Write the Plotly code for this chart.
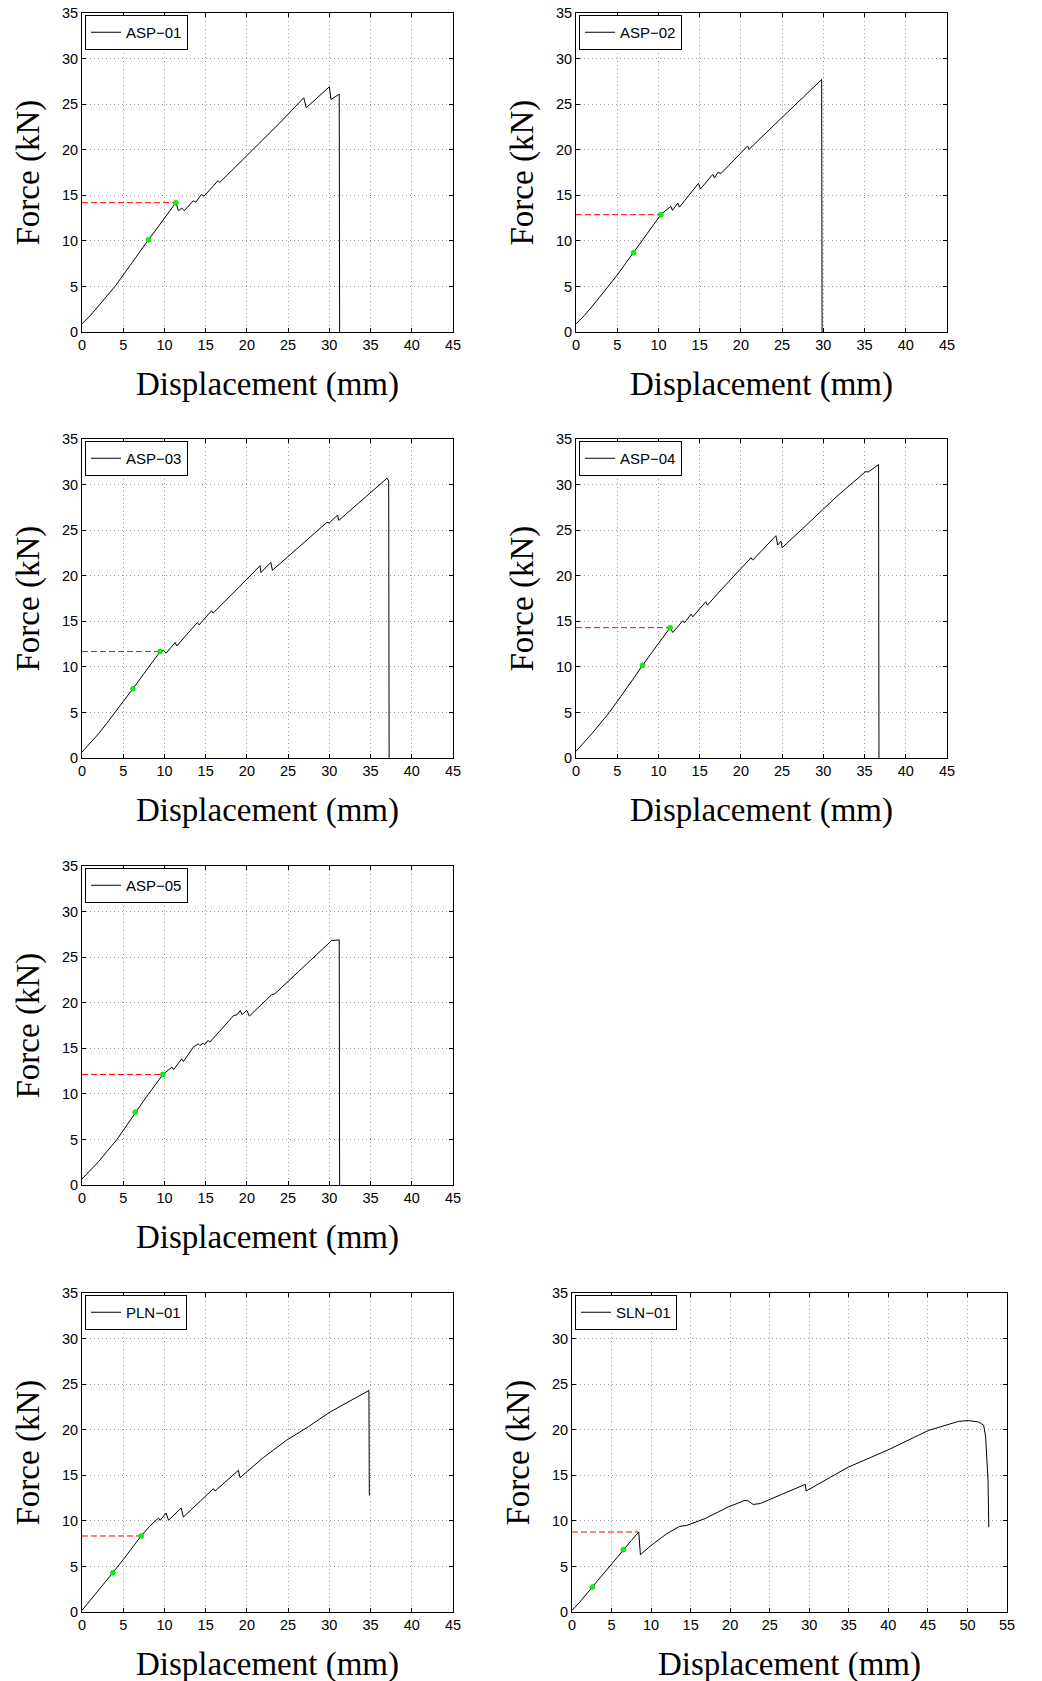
import plotly.graph_objects as go

W, H = 1042, 1681

# ---------------- data ----------------
specimen_names = ["ASP−01", "ASP−02", "ASP−03", "ASP−04", "ASP−05", "PLN−01", "SLN−01"]

asp01_disp = [0, 1, 2, 3, 4, 5, 6, 7, 8.07, 9, 10, 11.38, 11.7, 12.1, 12.4, 13.5, 13.8, 14.5, 14.8,
              16.5, 16.7, 20, 24, 26.9, 27.2, 30.0, 30.2, 31.2, 31.25]
asp01_force = [0.9, 1.8, 2.85, 3.95, 5.0, 6.25, 7.55, 8.8, 10.13, 11.25, 12.5, 14.19, 13.3, 13.6, 13.3, 14.4, 14.25, 15.1, 14.9,
               16.6, 16.4, 19.35, 22.95, 25.7, 24.6, 26.9, 25.5, 26.1, 0]
asp01_mark_disp = [8.07, 11.38]
asp01_mark_force = [10.13, 14.19]

asp02_disp = [0, 1, 2, 3, 3.95, 5, 6, 6.98, 8, 9, 10.29, 11.5, 11.7, 12.35, 12.55, 14.85, 15.1, 16.6, 16.8, 17.2, 17.6,
              20.8, 21.0, 25, 29.4, 29.6, 29.8, 29.85]
asp02_force = [0.9, 1.8, 2.85, 3.95, 5.0, 6.25, 7.5, 8.7, 10.0, 11.2, 12.87, 13.8, 13.35, 14.15, 13.7, 16.3, 15.7, 17.3, 16.9, 17.5, 17.4,
               20.4, 20.05, 23.55, 27.4, 27.6, 27.7, 0]
asp02_mark_disp = [6.98, 10.29]
asp02_mark_force = [8.7, 12.87]

asp03_disp = [0, 1, 2, 3, 4.04, 5, 6.17, 7, 8, 9.48, 9.9, 10.2, 11.3, 11.5, 14.0, 14.2, 15.7, 15.9, 19.0, 21.6, 21.7,
              22.9, 23.1, 26, 29.7, 30.0, 31.0, 31.15, 34, 37.0, 37.2, 37.25]
asp03_force = [0.66, 1.6, 2.65, 3.8, 5.0, 6.2, 7.6, 8.65, 9.9, 11.68, 11.8, 11.5, 12.67, 12.3, 14.87, 14.6, 16.15, 15.9, 18.7, 21.1, 20.35,
               21.46, 20.6, 22.9, 25.85, 25.8, 26.65, 26.07, 28.3, 30.7, 30.4, 0]
asp03_mark_disp = [6.17, 9.48]
asp03_mark_force = [7.6, 11.68]

asp04_disp = [0, 1, 2, 3, 4.04, 5, 6, 7, 8.07, 9, 10, 11.42, 11.74, 12.95, 13.16, 13.96, 14.16, 15.74, 15.94, 17.68,
              21.23, 21.43, 24.25, 24.46, 24.86, 25.0, 28, 31.6, 35.1, 35.5, 36.7, 36.75]
asp04_force = [0.73, 1.7, 2.75, 3.85, 5.0, 6.2, 7.45, 8.75, 10.18, 11.35, 12.6, 14.3, 13.77, 15.05, 14.83, 15.78, 15.49, 17.14, 16.77, 18.53,
               21.97, 21.71, 24.39, 23.36, 23.8, 23.07, 25.6, 28.67, 31.4, 31.4, 32.2, 0]
asp04_mark_disp = [8.07, 11.42]
asp04_mark_force = [10.18, 14.3]

asp05_disp = [0, 1, 2, 3, 4.24, 5, 6.46, 7.5, 8.5, 9.8, 10.9, 11.1, 12.1, 12.3, 13.5, 14.1, 14.3, 14.7, 14.9, 15.3, 15.5,
              18.4, 18.8, 19.2, 19.4, 20.0, 20.3, 23.0, 23.4, 27, 30.3, 30.7, 31.2, 31.25]
asp05_force = [0.66, 1.55, 2.55, 3.65, 5.0, 5.98, 7.98, 9.27, 10.51, 12.12, 12.93, 12.67, 13.84, 13.55, 15.12, 15.49, 15.3, 15.56, 15.4, 15.86, 15.67,
               18.6, 18.67, 19.15, 18.7, 19.15, 18.53, 20.87, 20.98, 24.0, 26.84, 26.84, 26.9, 0]
asp05_mark_disp = [6.46, 9.8]
asp05_mark_force = [7.98, 12.12]

pln01_disp = [0, 1, 2, 3.75, 5, 6, 7.18, 8.2, 9.28, 9.48, 10.2, 10.5, 12.03, 12.3, 15.94, 16.14, 18.97, 19.17,
              22, 24.8, 27.5, 30.1, 32.9, 34.0, 34.7, 34.8, 34.85]
pln01_force = [0.18, 1.25, 2.35, 4.32, 5.75, 6.95, 8.34, 9.4, 10.31, 10.06, 10.86, 10.06, 11.41, 10.42, 13.53, 13.28, 15.54, 14.74,
               16.95, 18.84, 20.35, 21.95, 23.4, 23.9, 24.3, 24.3, 12.8]
pln01_mark_disp = [3.75, 7.18]
pln01_mark_force = [4.32, 8.34]

sln01_disp = [0, 1, 2.57, 4, 5, 6.5, 7.5, 8.44, 8.65, 10, 12, 13.63, 14.5, 16.8, 19.75, 21.87, 22.3, 22.9, 23.8,
              26.5, 29.5, 29.6, 34.95, 40.0, 45.1, 48.9, 50.1, 51.4, 52.05, 52.3, 52.6, 52.7]
sln01_force = [0.18, 1.1, 2.74, 4.25, 5.3, 6.84, 7.84, 8.78, 6.29, 7.3, 8.6, 9.4, 9.5, 10.24, 11.52, 12.25, 12.18, 11.8, 11.9,
               12.9, 14.0, 13.28, 15.9, 17.8, 19.93, 20.92, 21.0, 20.85, 20.5, 19.2, 14.45, 9.3]
sln01_mark_disp = [2.57, 6.5]
sln01_mark_force = [2.74, 6.84]

yield_disp = [11.38, 10.29, 9.48, 11.42, 9.8, 7.18, 8.44]
yield_force = [14.19, 12.87, 11.68, 14.3, 12.12, 8.34, 8.78]

x_max = [45, 45, 45, 45, 45, 45, 55]
y_ticks = [0, 5, 10, 15, 20, 25, 30, 35]
x_title = "Displacement (mm)"
y_title = "Force (kN)"

series = [
    (asp01_disp, asp01_force, asp01_mark_disp, asp01_mark_force),
    (asp02_disp, asp02_force, asp02_mark_disp, asp02_mark_force),
    (asp03_disp, asp03_force, asp03_mark_disp, asp03_mark_force),
    (asp04_disp, asp04_force, asp04_mark_disp, asp04_mark_force),
    (asp05_disp, asp05_force, asp05_mark_disp, asp05_mark_force),
    (pln01_disp, pln01_force, pln01_mark_disp, pln01_mark_force),
    (sln01_disp, sln01_force, sln01_mark_disp, sln01_mark_force),
]

# ---------------- layout (pixel boxes of each plot area: left, right, top, bottom) -------------
boxes = [(82, 453, 13, 332), (576, 947, 13, 332),
         (82, 453, 439, 758), (576, 947, 439, 758),
         (82, 453, 866, 1185),
         (82, 453, 1293, 1612), (572, 1007, 1293, 1612)]

tick_font = dict(family="Liberation Sans, Arial, sans-serif", size=14.5, color="black")
title_font = dict(family="Liberation Serif, Times New Roman, serif", size=33, color="black")

fig = go.Figure()
layout = {}
annotations = []

for i, ((d, f, md, mf), (l, r, t, b)) in enumerate(zip(series, boxes)):
    k = i + 1
    xa = "x" if k == 1 else f"x{k}"
    ya = "y" if k == 1 else f"y{k}"
    lg = "legend" if k == 1 else f"legend{k}"

    fig.add_trace(go.Scatter(x=[0, yield_disp[i]], y=[yield_force[i], yield_force[i]], mode="lines",
                             line=dict(color="red", width=1, dash="6px,3px"),
                             xaxis=xa, yaxis=ya, showlegend=False, hoverinfo="skip"))
    fig.add_trace(go.Scatter(x=d, y=f, mode="lines", line=dict(color="black", width=1),
                             name=specimen_names[i], xaxis=xa, yaxis=ya, legend=lg, showlegend=True))
    fig.add_trace(go.Scatter(x=md, y=mf, mode="markers",
                             marker=dict(color="#00ff00", size=5, line=dict(color="#00b000", width=0.5)),
                             xaxis=xa, yaxis=ya, showlegend=False, hoverinfo="skip"))

    common = dict(showline=True, linecolor="black", linewidth=1, mirror="ticks", ticks="inside",
                  ticklen=4, tickcolor="black", showgrid=True, gridcolor="#9a9a9a", griddash="1px,3px",
                  gridwidth=1, zeroline=False, tickfont=tick_font, fixedrange=True, automargin=False)
    layout["xaxis" if k == 1 else f"xaxis{k}"] = dict(
        common, domain=[l / W, r / W], anchor=ya, range=[0, x_max[i]],
        tickvals=list(range(0, x_max[i] + 1, 5)))
    layout["yaxis" if k == 1 else f"yaxis{k}"] = dict(
        common, domain=[1 - b / H, 1 - t / H], anchor=xa, range=[0, 35], tickvals=y_ticks)
    layout[lg] = dict(x=(l + 3) / W, y=1 - (t + 2) / H, xanchor="left", yanchor="top",
                      xref="paper", yref="paper",
                      bgcolor="white", bordercolor="black", borderwidth=1,
                      font=dict(family="Liberation Sans, Arial, sans-serif", size=15, color="black"),
                      itemwidth=30, tracegroupgap=0)

    annotations.append(dict(text=x_title, x=(l + r) / 2 / W, y=1 - (b + 52) / H, xref="paper", yref="paper",
                            xanchor="center", yanchor="middle", showarrow=False, font=title_font))
    annotations.append(dict(text=y_title, x=(l - 54) / W, y=1 - (t + b) / 2 / H, xref="paper", yref="paper",
                            xanchor="center", yanchor="middle", showarrow=False, textangle=-90, font=title_font))

fig.update_layout(width=W, height=H, margin=dict(l=0, r=0, t=0, b=0, autoexpand=False),
                  paper_bgcolor="white", plot_bgcolor="white", annotations=annotations, **layout)

fig.write_html("out.html",
               config={"displayModeBar": False, "staticPlot": True},
               post_script="document.body.style.margin='0px';document.body.style.overflow='hidden';")
